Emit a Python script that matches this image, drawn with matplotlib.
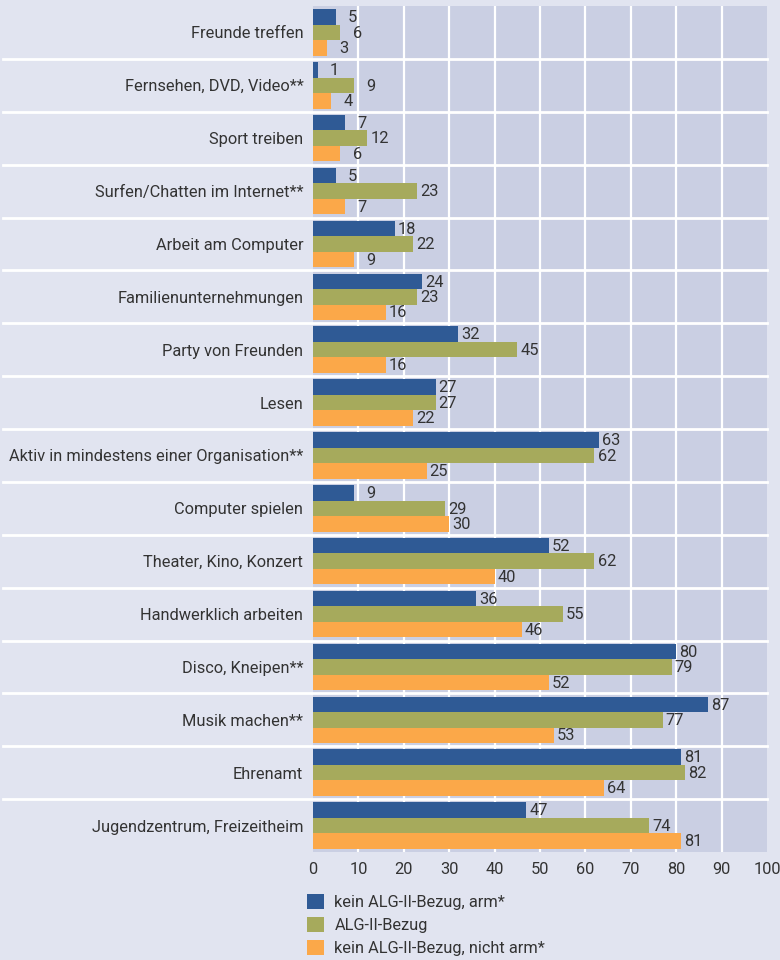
import matplotlib.pyplot as plt
import matplotlib.transforms as mtransforms
from matplotlib.patches import Patch
import numpy as np

plt.rcParams['font.family'] = ['Roboto', 'DejaVu Sans']

categories = ["Freunde treffen", "Fernsehen, DVD, Video**", "Sport treiben",
              "Surfen/Chatten im Internet**", "Arbeit am Computer",
              "Familienunternehmungen", "Party von Freunden", "Lesen",
              "Aktiv in mindestens einer Organisation**", "Computer spielen",
              "Theater, Kino, Konzert", "Handwerklich arbeiten", "Disco, Kneipen**",
              "Musik machen**", "Ehrenamt", "Jugendzentrum, Freizeitheim"]
arm = [5, 1, 7, 5, 18, 24, 32, 27, 63, 9, 52, 36, 80, 87, 81, 47]
alg = [6, 9, 12, 23, 22, 23, 45, 27, 62, 29, 62, 55, 79, 77, 82, 74]
nicht_arm = [3, 4, 6, 7, 9, 16, 16, 22, 25, 30, 40, 46, 52, 53, 64, 81]
series_names = ["kein ALG-II-Bezug, arm*", "ALG-II-Bezug", "kein ALG-II-Bezug, nicht arm*"]
colors = ["#2f5a95", "#a6aa5c", "#fba849"]
xticks = list(range(0, 101, 10))

bg = "#e1e4f0"
plot_bg = "#cacfe3"
txt = "#333333"
fs = 11.8

fig = plt.figure(figsize=(7.8, 9.6), dpi=100, facecolor=bg)
ax = fig.add_axes([313/780, 1-852/960, 454/780, 846/960])
ax.set_facecolor(plot_bg)

y = np.arange(len(categories))
h = 0.293
for k, vals in enumerate([arm, alg, nicht_arm]):
    pos = y + (k - 1) * h
    ax.barh(pos, vals, height=h, color=colors[k], zorder=3)
    for p, v in zip(pos, vals):
        ax.annotate(str(v), xy=(v, p), xytext=(15.5, -0.5), textcoords="offset points",
                    ha="right", va="center", fontsize=fs, color=txt, zorder=4)

ax.set_xlim(0, 100)
ax.set_ylim(len(categories) - 0.5, -0.5)
ax.set_xticks(xticks)
ax.set_xticklabels([str(t) for t in xticks], fontsize=fs, color=txt)
ax.set_yticks(y)
ax.set_yticklabels(categories, fontsize=fs, color=txt)
ax.tick_params(axis="y", length=0, pad=7)
ax.tick_params(axis="x", length=0, pad=7)
for s in ax.spines.values():
    s.set_visible(False)
for t in xticks[1:-1]:
    ax.axvline(t, color="white", lw=1.6, zorder=2)

trans = mtransforms.blended_transform_factory(ax.transAxes, ax.transData)
x0 = (3 - 313) / 454
for i in range(len(categories) - 1):
    ax.plot([x0, 1], [i + 0.5, i + 0.5], color="white", lw=2, transform=trans,
            clip_on=False, zorder=5)

handles = [Patch(facecolor=c, edgecolor="none") for c in colors]
fig.legend(handles, series_names, loc="upper left", bbox_to_anchor=(300/780, 1-887/960),
           frameon=False, fontsize=fs, handlelength=1.05, handleheight=1.05,
           handletextpad=0.65, labelspacing=0.42, labelcolor=txt, borderaxespad=0)

fig.savefig("out.png", dpi=100, facecolor=bg)
